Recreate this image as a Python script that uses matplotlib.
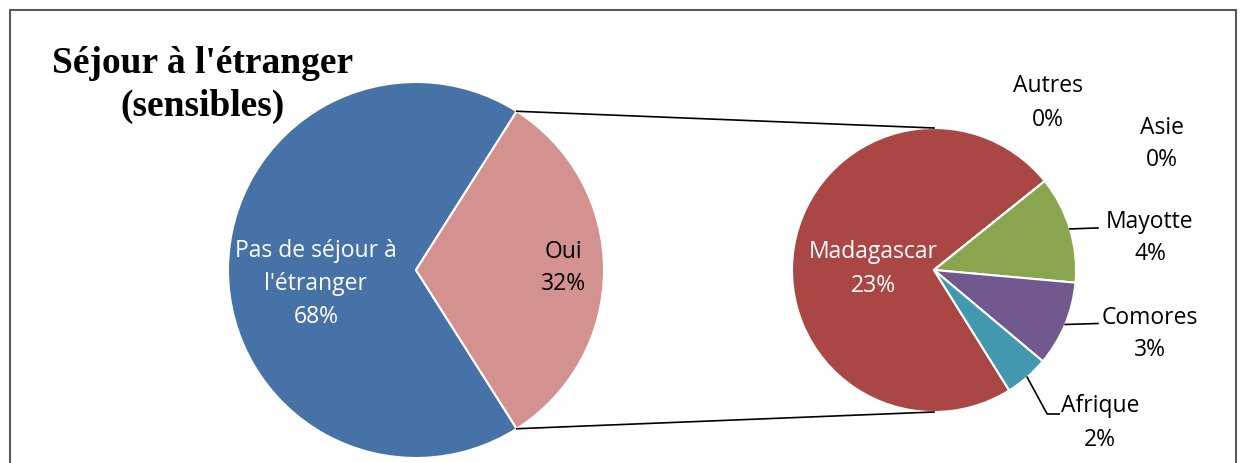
import matplotlib
matplotlib.use("Agg")
import matplotlib.pyplot as plt
import numpy as np
from matplotlib.patches import Rectangle

# données
main_labels = ["Pas de séjour à\nl'étranger", "Oui"]
main_values = [68, 32]
main_colors = ["#4672A8", "#D3918F"]

sub_labels = ["Madagascar", "Autres", "Asie", "Mayotte", "Comores", "Afrique"]
sub_values = [23.4, 0.0, 0.0, 3.9, 3.1, 1.6]
sub_colors = ["#AA4644", "#4F81BD", "#F79646", "#89A54E", "#71588F", "#4198AF"]

W, H = 1246, 463
fig = plt.figure(figsize=(W / 100, H / 100), dpi=100)
ax = fig.add_axes([0, 0, 1, 1])

font = "Open Sans"
fs = 16.5
ls = 1.5

# cadre
ax.add_patch(Rectangle((10, -20), 1226, H - 10 + 20, fill=False,
                       edgecolor="#595959", lw=1.5))

# camembert principal
c1, r1 = (416, 193), 188
start1 = 360 * main_values[1] / sum(main_values) / 2
ax.pie(main_values, colors=main_colors, center=c1, radius=r1,
       startangle=start1, counterclock=True, frame=True,
       wedgeprops=dict(edgecolor="white", linewidth=1.5))

tot1 = sum(main_values)
ax.text(316, 463 - 284, f"{main_labels[0]}\n{round(main_values[0] / tot1 * 100)}%",
        ha="center", va="center", color="white", fontsize=fs, family=font,
        linespacing=ls)
ax.text(563, 463 - 268, f"{main_labels[1]}\n{round(main_values[1] / tot1 * 100)}%",
        ha="center", va="center", color="black", fontsize=fs, family=font,
        linespacing=ls)

# camembert secondaire
c2, r2 = (934, 193), 142
wedges2, _ = ax.pie(sub_values, colors=sub_colors, center=c2, radius=r2,
                    startangle=-58, counterclock=False, frame=True,
                    wedgeprops=dict(edgecolor="white", linewidth=1.5))
ax.set_xlim(0, W)
ax.set_ylim(0, H)
ax.set_aspect("equal")
ax.axis("off")

# lignes de liaison
a = np.deg2rad(start1)
for s in (1, -1):
    x0 = c1[0] + r1 * np.cos(a)
    y0 = c1[1] + s * r1 * np.sin(a)
    ax.plot([x0, c2[0]], [y0, c2[1] + s * r2], color="black", lw=1.2)

def pct(v):
    return f"{round(v / tot1 * 100)}%"

ax.text(873, 463 - 269, f"{sub_labels[0]}\n{pct(sub_values[0])}", ha="center",
        va="center", color="white", fontsize=fs, family=font, linespacing=ls)

label_pos = {
    "Autres": (1048, 463 - 103),
    "Asie": (1162, 463 - 144),
    "Mayotte": (1150, 463 - 238),
    "Comores": (1150, 463 - 334),
    "Afrique": (1100, 463 - 423),
}
for w, lab, v in zip(wedges2, sub_labels, sub_values):
    if lab not in label_pos:
        continue
    lx, ly = label_pos[lab]
    ax.text(lx, ly, f"{lab}\n{pct(v)}", ha="center", va="center",
            color="black", fontsize=fs, family=font, linespacing=ls)
    if v > 0:
        mid = np.deg2rad((w.theta1 + w.theta2) / 2)
        px = c2[0] + r2 * np.cos(mid)
        py = c2[1] + r2 * np.sin(mid)
        if lab == "Afrique":
            ax.plot([px, px + 20, px + 32], [py, ly + 9, ly + 9], color="black", lw=1.2)
        else:
            ax.plot([px, 1098], [py, py + 1], color="black", lw=1.2)

# titre
ax.text(203, 463 - 85, "Séjour à l'étranger\n(sensibles)", ha="center",
        va="center", fontsize=27, fontweight="bold",
        family="Liberation Serif", linespacing=1.3)

fig.savefig("out.png", dpi=100)
